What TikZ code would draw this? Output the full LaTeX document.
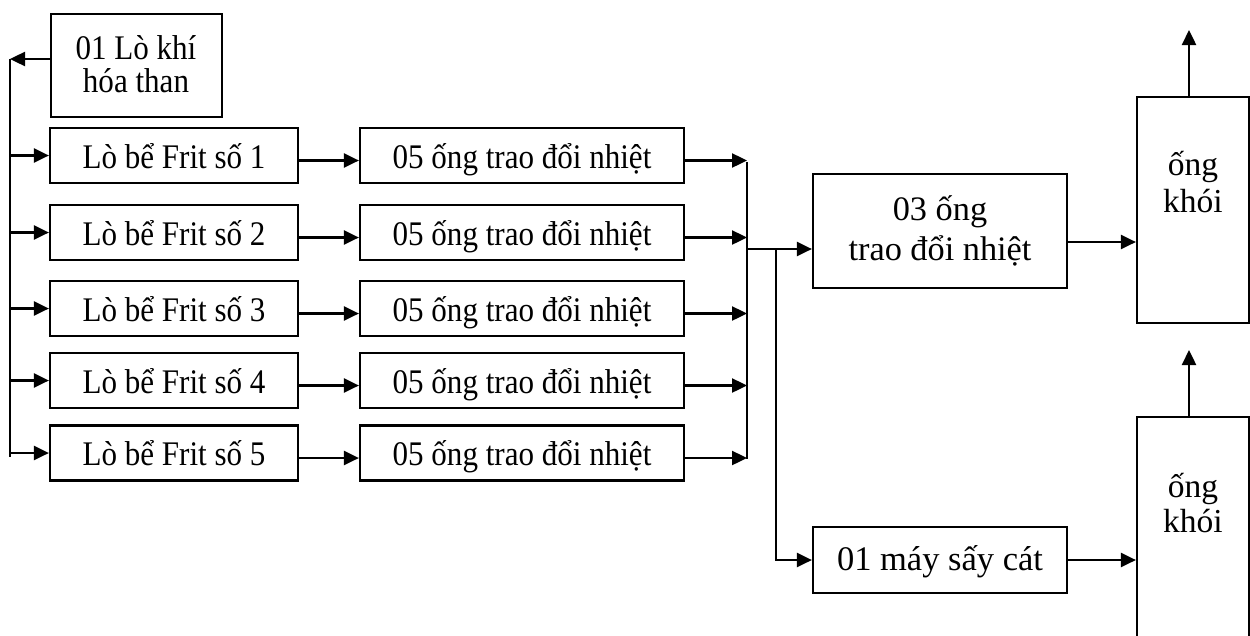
\documentclass[tikz,border=0pt]{standalone}
\usepackage{fontspec}
\setmainfont{Liberation Serif}
\newfontfamily\narrowserif[FakeStretch=0.9]{Liberation Serif}
\usetikzlibrary{arrows.meta}
\begin{document}
\begin{tikzpicture}[x=1pt,y=-1pt,
  frame/.style={draw,line width=2.2pt,rectangle,inner sep=0pt},
  box/.style={frame,font=\narrowserif\fontsize{34.5}{36}\selectfont,
              text height=27pt,text depth=2pt},
  narrowline/.style={anchor=base,inner sep=0pt,font=\narrowserif\fontsize{34.5}{36}\selectfont},
  wideline/.style={anchor=base,inner sep=0pt,font=\fontsize{34.3}{40}\selectfont},
  stackline/.style={anchor=base,inner sep=0pt,font=\fontsize{33.5}{37}\selectfont},
  arr/.style={line width=2.4pt,-{Triangle[length=15pt,width=14pt]}},
  bus/.style={line width=1.9pt}]
\useasboundingbox (0,0) rectangle (1250,635);
\fill[white] (0,0) rectangle (1250,635);
\begin{scope}
\clip (0,0) rectangle (1250,635);

% gasifier and left distribution bus
\node[frame,minimum width=171pt,minimum height=103pt] (gas) at (136.5,65.5) {};
\node[narrowline] (gasA) at (136,59) {01 Lò khí};
\node[narrowline] (gasB) at (136,92) {hóa than};
\coordinate (lb1) at (10,59);
\coordinate (lb2) at (10,457);
\coordinate (rb1) at (747,162);
\coordinate (rb2) at (747,459);
\draw[arr] (gas.west |- lb1) -- (lb1);
\draw[bus] (lb1) -- (lb2);
\draw[bus] (rb1) -- (rb2);

% five furnaces with their heat exchangers
\foreach \i/\y in {1/155.5,2/232.5,3/308.5,4/380.5,5/453} {
  \node[box,minimum width=248pt,minimum height=55pt] (f\i) at (174,\y) {Lò bể Frit số \i};
  \node[box,minimum width=324pt,minimum height=55pt] (e\i) at (522,\y) {05 ống trao đổi nhiệt};
  \draw[arr] (lb1 |- f\i.west) -- (f\i.west);
  \draw[arr] ([yshift=-5pt]f\i.east) -- ([yshift=-5pt]e\i.west);
  \draw[arr] ([yshift=-5pt]e\i.east) -- ([yshift=-5pt]e\i.east -| rb1);
}

% collector, heat exchanger and sand dryer
\node[frame,minimum width=254pt,minimum height=114pt] (hx) at (940,231) {};
\node[wideline] (hxA) at (940,220) {03 ống};
\node[wideline] (hxB) at (940,260.5) {trao đổi nhiệt};
\node[frame,minimum width=254pt,minimum height=66pt,
      font=\fontsize{34.5}{40}\selectfont,text height=24pt,text depth=2.6pt] (dry) at (940,560) {01 máy sấy cát};
\coordinate (mj) at (747,249);
\coordinate (sp) at (776,249);
\draw[arr] (mj) -- (mj -| hx.west);
\draw[arr] (sp) |- (dry.west);

% chimneys
\node[frame,minimum width=112pt,minimum height=226pt] (ch1) at (1193,210) {};
\node[stackline] (ch1A) at (1193,175) {ống};
\node[stackline] (ch1B) at (1193,212) {khói};
\node[frame,minimum width=112pt,minimum height=246pt] (ch2) at (1193,540) {};
\node[stackline] (ch2A) at (1193,497) {ống};
\node[stackline] (ch2B) at (1193,532) {khói};
\path ([yshift=-11pt]hx.east) coordinate (o3);
\draw[arr] (o3) -- (o3 -| ch1.west);
\draw[arr] (dry.east) -- (dry.east -| ch2.west);
\coordinate (up1) at (1189,30);
\coordinate (up2) at (1189,350);
\draw[arr] (up1 |- ch1.north) -- (up1);
\draw[arr] (up2 |- ch2.north) -- (up2);
\end{scope}
\end{tikzpicture}
\end{document}
